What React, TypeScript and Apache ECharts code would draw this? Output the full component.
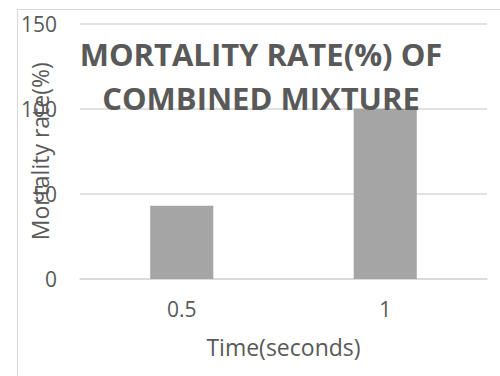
import React, { useEffect, useRef } from "react";
import * as echarts from "echarts";

const categories = ["0.5", "1"];
const mortality = [43, 100];
const yTicks = { min: 0, max: 150, interval: 50 };
const titleText = "MORTALITY RATE(%) OF\nCOMBINED MIXTURE";
const xName = "Time(seconds)";
const yName = "Mortality rate(%)";

export default function App() {
  const ref = useRef<HTMLDivElement>(null);
  useEffect(() => {
    if (!ref.current) return;
    const chart = echarts.init(ref.current, null, { renderer: "svg" });
    const font = "'Open Sans', sans-serif";
    chart.setOption({
      animation: false,
      backgroundColor: "#ffffff",
      graphic: [
        {
          type: "rect",
          shape: { x: 17.5, y: 9.5, width: 520, height: 420 },
          style: { fill: "none", stroke: "#d9d9d9", lineWidth: 1 },
          z: 0,
        },
      ],
      title: {
        text: titleText,
        left: 256,
        top: 27,
        textAlign: "center",
        z: 10,
        textStyle: {
          fontFamily: font,
          fontWeight: "bold",
          fontSize: 31,
          lineHeight: 44,
          color: "#595959",
        },
      },
      grid: {
        left: 80,
        right: 13,
        top: 23.5,
        bottom: 97,
        containLabel: false,
        outerBoundsMode: "none",
      },
      xAxis: {
        type: "category",
        data: categories,
        name: xName,
        nameLocation: "middle",
        nameGap: 56,
        nameMoveOverlap: false,
        nameTextStyle: { fontFamily: font, fontSize: 23, color: "#595959" },
        axisLine: { show: true, lineStyle: { color: "#d9d9d9", width: 1.5 } },
        axisTick: { show: false },
        axisLabel: { fontFamily: font, fontSize: 21, color: "#595959", margin: 19 },
      },
      yAxis: {
        type: "value",
        min: yTicks.min,
        max: yTicks.max,
        interval: yTicks.interval,
        name: yName,
        nameLocation: "middle",
        nameGap: 29,
        nameMoveOverlap: false,
        nameTextStyle: { fontFamily: font, fontSize: 23, color: "#595959" },
        axisLine: { show: false },
        axisTick: { show: false },
        splitLine: { lineStyle: { color: "#d9d9d9", width: 1.5 } },
        axisLabel: { fontFamily: font, fontSize: 21, color: "#595959", margin: 23 },
      },
      series: [
        {
          type: "bar",
          data: mortality,
          barWidth: "31%",
          itemStyle: { color: "#a5a5a5" },
        },
      ],
    });
    return () => chart.dispose();
  }, []);
  return (
    <div
      ref={ref}
      style={{ position: "fixed", left: 0, top: 0, width: 500, height: 376 }}
    />
  );
}
